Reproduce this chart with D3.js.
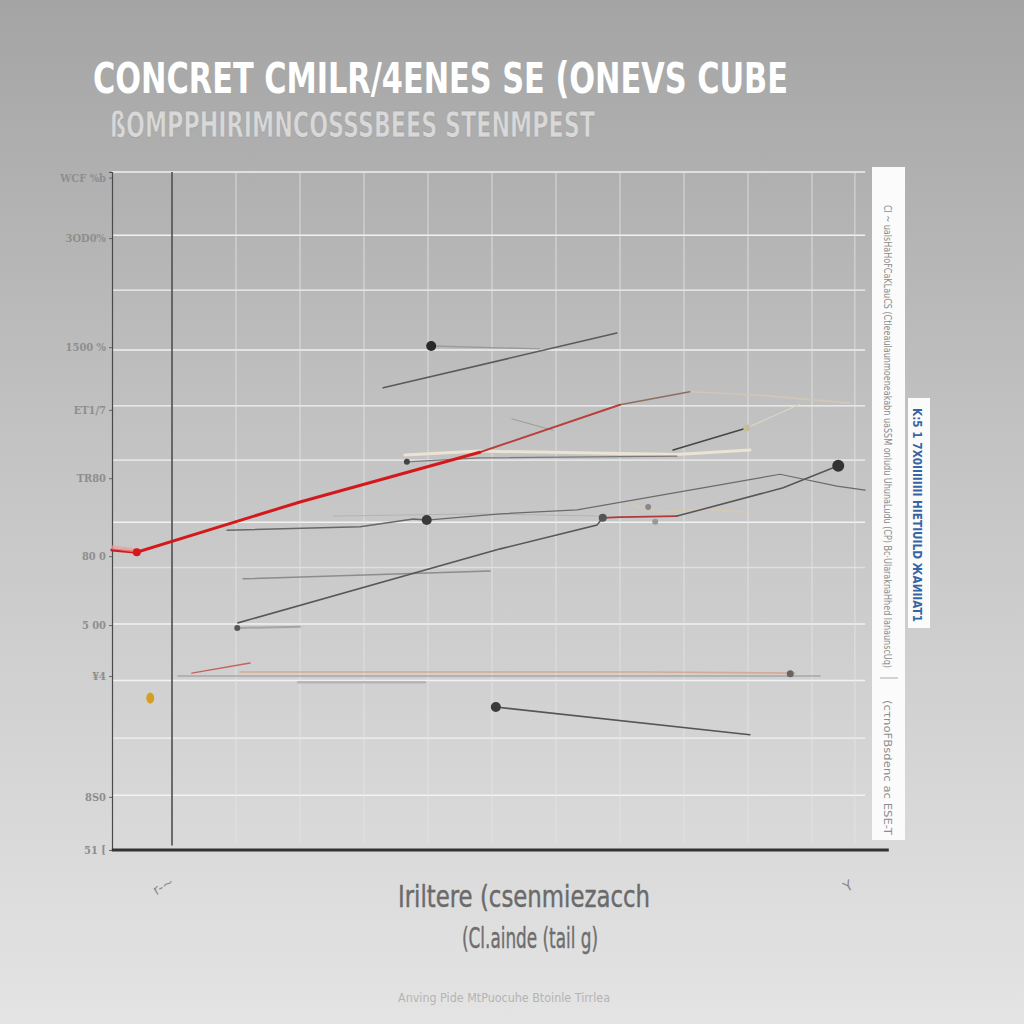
<!DOCTYPE html>
<html>
<head>
<meta charset="utf-8">
<script src="https://cdn.jsdelivr.net/npm/d3@7"></script>
<style>
  html, body { margin: 0; padding: 0; background: #c8c8c8; }
  svg { display: block; }
</style>
</head>
<body>
<div id="chart-holder"></div>
<script>
// Chart values (x in grid columns, y in grid rows)

const titleText = 'CONCRET CMILR/4ENES SE (ONEVS CUBE';
const subtitleText = 'ßOMPPHIRIMNCOSSSBEES STENMPEST';
const xTitleText = 'Iriltere (csenmiezacch';
const xSubTitleText = '(Cl.ainde (tail g)';
const footText = 'Anving Pide MtPuocuhe Btoinle Tirrlea';

const xGrid = [1, 2, 3, 4, 5, 6, 7, 8, 9, 10, 11, 11.67];
const yGrid = [0.97, 1.98, 3.0, 4.0, 5.0, 5.8, 6.9, 7.86, 8.85, 9.91, 10.88, 12];

const yTickValues = [0, 0.94, 3.08, 3.98, 5.2, 6.58, 7.79, 8.9, 10.83, 11.9];
const yTickLabels = ['51 [', '8S0', '¥4', '5 00', '80 0', 'TR80', 'ET1/7', '1500 %', '3OD0%', 'WCF %b'];

const xTickValues = [0.9, 11.6];
const xTickLabels = ['r-~', 'Y'];

// line series
const redMain   = [[0.06, 5.31], [0.45, 5.27], [3.0, 6.16], [5.81, 7.04]];
const redTail   = [[5.81, 7.04], [8.0, 7.88]];
const brownTail = [[8.0, 7.88], [9.09, 8.11]];
const beigeTail = [[9.09, 8.11], [10.19, 8.05], [11.59, 7.91]];
const topDark   = [[4.3, 8.18], [7.95, 9.15]];
const topGray   = [[5.05, 8.92], [6.75, 8.87]];
const midBeige  = [[4.64, 6.99], [5.81, 7.06], [8.89, 7.0], [10.03, 7.08]];
const midGray   = [[4.67, 6.87], [5.81, 6.94], [8.89, 6.97]];
const riseDark  = [[8.83, 7.08], [9.98, 7.47]];
const riseLight = [[9.98, 7.47], [10.81, 7.89]];
const stubGray  = [[6.31, 7.63], [6.95, 7.43]];
const curveLeft = [[1.86, 5.66], [3.94, 5.72], [4.77, 5.86], [4.98, 5.84]];
const curveRight = [[4.98, 5.84], [6.13, 5.95], [7.33, 6.02], [9.45, 6.44], [10.5, 6.65], [11.39, 6.44], [11.83, 6.37]];
const curveLight = [[3.52, 5.91], [5.81, 5.95], [7.69, 5.91]];
const longRiseA = [[2.03, 4.02], [6.13, 5.33], [7.64, 5.75], [7.73, 5.88]];
const longRiseB = [[7.73, 5.88], [8.0, 5.89], [8.89, 5.91]];
const longRiseC = [[8.89, 5.91], [10.55, 6.41], [11.41, 6.8]];
const beigeKnot = [[8.16, 6.11], [8.63, 5.98], [9.25, 6.04], [9.95, 5.98]];
const flatMid   = [[2.11, 4.8], [5.97, 4.94]];
const shortLow  = [[2.02, 3.93], [3.0, 3.95]];
const salmonLong = [[2.06, 3.15], [8.47, 3.15], [10.73, 3.13]];
const grayLong  = [[1.09, 3.08], [11.13, 3.08]];
const redShort  = [[1.31, 3.13], [2.22, 3.31]];
const grayShort = [[2.97, 2.97], [4.95, 2.97]];
const fallDark  = [[6.06, 2.53], [10.03, 2.04]];

// dots sitting on the lines
const dotPoints = [[0.45, 5.27], [5.05, 8.92], [4.98, 5.84], [7.73, 5.88], [11.41, 6.8], [6.06, 2.53], [2.02, 3.93], [10.66, 3.12], [8.44, 6.07], [8.55, 5.81], [4.67, 6.87], [9.98, 7.47]];
const blobPoint = [0.66, 2.69];

// styles, kept apart from the values
const lineStyles = [
  { data: grayLong,   stroke: '#8c8c8c', w: 1.2, op: 0.9 },
  { data: salmonLong, stroke: '#d6a58c', w: 1.6, op: 0.9 },
  { data: grayShort,  stroke: '#a8a8a8', w: 2.5, op: 0.7 },
  { data: redShort,   stroke: '#c05656', w: 1.4, op: 0.9 },
  { data: shortLow,   stroke: '#9a9a9a', w: 2, op: 0.8 },
  { data: flatMid,    stroke: '#858585', w: 1.5, op: 0.9 },
  { data: fallDark,   stroke: '#555555', w: 1.6, op: 1 },
  { data: midBeige,   stroke: '#ebe3d4', w: 3, op: 1 },
  { data: midGray,    stroke: '#7a7a7a', w: 1.2, op: 1 },
  { data: stubGray,   stroke: '#9c9c9c', w: 1, op: 1 },
  { data: curveLight, stroke: '#b4b4b4', w: 1, op: 1 },
  { data: curveLeft,  stroke: '#676767', w: 1.5, op: 1 },
  { data: curveRight, stroke: '#6a6a6a', w: 1.2, op: 1 },
  { data: beigeKnot,  stroke: '#d8c8b0', w: 1.5, op: 1 },
  { data: longRiseA,  stroke: '#575757', w: 1.6, op: 1 },
  { data: longRiseB,  stroke: '#b03a3a', w: 1.8, op: 1 },
  { data: longRiseC,  stroke: '#575757', w: 1.6, op: 1 },
  { data: riseDark,   stroke: '#464646', w: 1.6, op: 1 },
  { data: riseLight,  stroke: '#dcd4c4', w: 1.2, op: 1 },
  { data: beigeTail,  stroke: '#d2c6b6', w: 1.6, op: 1 },
  { data: brownTail,  stroke: '#8c6e62', w: 1.6, op: 1 },
  { data: topGray,    stroke: '#9a9a9a', w: 1.3, op: 1 },
  { data: topDark,    stroke: '#5a5a5a', w: 1.6, op: 1 },
  { data: redTail,    stroke: '#b8403c', w: 2, op: 1 },
  { data: redMain,    stroke: '#d3191b', w: 3, op: 1 }
];
const dotSizes = [4, 5, 5, 4, 6, 5, 3, 3.5, 3, 3, 3, 3.5];
const dotColors = ['#d3191b', '#2a2a2a', '#3a3a3a', '#555', '#333', '#3a3a3a', '#555', '#666', '#888', '#999', '#444', '#c8bca0'];

const W = 1024, H = 1024;

const svg = d3.select('#chart-holder')
  .append('svg')
  .attr('width', W)
  .attr('height', H);

// background gradient
const defs = svg.append('defs');
const grad = defs.append('linearGradient')
  .attr('id', 'bg').attr('x1', 0).attr('y1', 0).attr('x2', 0).attr('y2', 1);
grad.append('stop').attr('offset', '0%').attr('stop-color', '#a4a4a4');
grad.append('stop').attr('offset', '45%').attr('stop-color', '#c4c4c4');
grad.append('stop').attr('offset', '100%').attr('stop-color', '#e4e4e4');
svg.append('rect').attr('width', W).attr('height', H).attr('fill', 'url(#bg)');

var x = d3.scaleLinear().domain([0, 12]).range([108, 876]);
var y = d3.scaleLinear().domain([0, 12]).range([850, 172]);

// grid
let gridG = svg.append('g');
gridG.selectAll('.hgrid')
  .data(yGrid)
  .join('line')
  .classed('hgrid', true)
  .attr('x1', x(0.06)).attr('x2', x(11.83))
  .attr('y1', d => y(d)).attr('y2', d => y(d))
  .attr('stroke', '#f5f5f5')
  .attr('stroke-width', 1.4)
  .attr('opacity', d => d === 5.0 ? 0.5 : 0.95);

gridG.selectAll('.vgrid')
  .data(xGrid)
  .join('line')
  .classed('vgrid', true)
  .attr('x1', d => x(d)).attr('x2', d => x(d))
  .attr('y1', y(12)).attr('y2', y(0.1))
  .attr('stroke', '#e6e6e6')
  .attr('stroke-width', 1)
  .attr('opacity', 0.8);

// dark vertical reference line
gridG.append('line')
  .attr('x1', x(1)).attr('x2', x(1))
  .attr('y1', y(12)).attr('y2', y(0.08))
  .attr('stroke', '#3a3a3a')
  .attr('stroke-width', 1.4);

// y axis
let yAxis = d3.axisLeft(y)
  .tickValues(yTickValues)
  .tickFormat((d, i) => yTickLabels[i])
  .tickSize(3);

let yAxisG = svg.append('g')
  .attr('transform', `translate(${x(0) + 4},0)`)
  .call(yAxis);
yAxisG.select('.domain').attr('stroke', '#4a4a4a').attr('stroke-width', 1.2);
yAxisG.selectAll('.tick line').attr('stroke', '#666');
yAxisG.selectAll('.tick text')
  .attr('fill', '#8e8e8e')
  .attr('font-family', 'DejaVu Serif Condensed, DejaVu Serif, serif')
  .attr('font-weight', 'bold')
  .attr('font-size', 11);

// x axis: heavy baseline, scribble labels
let xAxisG = svg.append('g');
xAxisG.append('line')
  .attr('x1', x(0.06)).attr('x2', x(12.2))
  .attr('y1', y(0)).attr('y2', y(0))
  .attr('stroke', '#333')
  .attr('stroke-width', 3);
xAxisG.selectAll('.x-scribble')
  .data(xTickValues)
  .join('text')
  .classed('x-scribble', true)
  .attr('transform', d => `translate(${x(d)},${y(0) + 40}) rotate(-30)`)
  .attr('text-anchor', 'middle')
  .attr('font-family', 'DejaVu Sans')
  .attr('font-size', 14)
  .attr('fill', '#8a8a8a')
  .text((d, i) => xTickLabels[i]);

// lines
const lineGen = d3.line().x(d => x(d[0])).y(d => y(d[1]));
let linesG = svg.append('g').attr('fill', 'none');
linesG.selectAll('.series')
  .data(lineStyles)
  .join('path')
  .classed('series', true)
  .attr('d', d => lineGen(d.data))
  .attr('stroke', d => d.stroke)
  .attr('stroke-width', d => d.w)
  .attr('stroke-linecap', 'round')
  .attr('opacity', d => d.op);

// pink fringe at the start of the red line
linesG.append('path')
  .attr('d', lineGen([[0.06, 5.36], [0.45, 5.3]]))
  .attr('stroke', '#e8a0a0')
  .attr('stroke-width', 4)
  .attr('opacity', 0.7);

// dots
svg.append('g').selectAll('.dot')
  .data(dotPoints)
  .join('circle')
  .classed('dot', true)
  .attr('cx', d => x(d[0]))
  .attr('cy', d => y(d[1]))
  .attr('r', (d, i) => dotSizes[i])
  .attr('fill', (d, i) => dotColors[i]);

svg.append('ellipse')
  .attr('cx', x(blobPoint[0])).attr('cy', y(blobPoint[1]))
  .attr('rx', 4).attr('ry', 5.5)
  .attr('fill', '#d3a022');

// titles
svg.append('text')
  .attr('x', 93).attr('y', 93)
  .attr('font-family', 'DejaVu Sans Condensed, Liberation Sans, sans-serif')
  .attr('font-weight', 'bold')
  .attr('font-size', 42)
  .attr('textLength', 695)
  .attr('lengthAdjust', 'spacingAndGlyphs')
  .attr('fill', '#ffffff')
  .text(titleText);

svg.append('text')
  .attr('x', 110).attr('y', 137)
  .attr('font-family', 'DejaVu Sans Condensed, Liberation Sans, sans-serif')
  .attr('font-weight', 'bold')
  .attr('font-size', 36)
  .attr('textLength', 485)
  .attr('lengthAdjust', 'spacingAndGlyphs')
  .attr('fill', '#d8d8d8')
  .attr('stroke', '#9a9a9a')
  .attr('stroke-width', 0.6)
  .text(subtitleText);

svg.append('text')
  .attr('x', 398).attr('y', 907)
  .attr('font-family', 'DejaVu Sans Condensed, sans-serif')
  .attr('font-size', 30)
  .attr('textLength', 252)
  .attr('lengthAdjust', 'spacingAndGlyphs')
  .attr('fill', '#6a6a6a')
  .attr('stroke', '#6a6a6a')
  .attr('stroke-width', 0.4)
  .text(xTitleText);

svg.append('text')
  .attr('x', 462).attr('y', 948)
  .attr('font-family', 'DejaVu Sans Condensed, sans-serif')
  .attr('font-size', 28)
  .attr('textLength', 136)
  .attr('lengthAdjust', 'spacingAndGlyphs')
  .attr('fill', '#6e6e6e')
  .attr('stroke', '#6e6e6e')
  .attr('stroke-width', 0.4)
  .text(xSubTitleText);

svg.append('text')
  .attr('x', 398).attr('y', 1002)
  .attr('font-family', 'DejaVu Sans Condensed, sans-serif')
  .attr('font-size', 12)
  .attr('textLength', 212)
  .attr('lengthAdjust', 'spacingAndGlyphs')
  .attr('fill', '#b4b4b4')
  .text(footText);

// legend strips on the right
let legendG = svg.append('g');
legendG.append('rect')
  .attr('x', 872).attr('y', 167).attr('width', 33).attr('height', 673)
  .attr('fill', '#fbfbfb');
legendG.append('text')
  .attr('transform', 'translate(884,205) rotate(90)')
  .attr('font-family', 'DejaVu Sans Condensed, sans-serif')
  .attr('font-size', 10)
  .attr('textLength', 463)
  .attr('lengthAdjust', 'spacingAndGlyphs')
  .attr('fill', '#8c8c8c')
  .text('Cl ~ ualsHaHoFCaKLauCS (Ctleeaulaunmoeneakabn uaSSM onludu UhunaLudu (CP) Bc·UlaraknaHhed lanaunscUq)');
legendG.append('line')
  .attr('x1', 880).attr('x2', 898).attr('y1', 678).attr('y2', 678)
  .attr('stroke', '#aaa').attr('stroke-width', 1);
legendG.append('text')
  .attr('transform', 'translate(884,700) rotate(90)')
  .attr('font-family', 'DejaVu Sans Condensed, sans-serif')
  .attr('font-size', 10)
  .attr('textLength', 135)
  .attr('lengthAdjust', 'spacingAndGlyphs')
  .attr('fill', '#8c8c8c')
  .text('(cτnoFBsdenc  ac  ESE-T');

legendG.append('rect')
  .attr('x', 908).attr('y', 398).attr('width', 22).attr('height', 230)
  .attr('fill', '#fbfbfb');
legendG.append('text')
  .attr('transform', 'translate(913,408) rotate(90)')
  .attr('font-family', 'DejaVu Sans Condensed, sans-serif')
  .attr('font-weight', 'bold')
  .attr('font-size', 12)
  .attr('textLength', 214)
  .attr('lengthAdjust', 'spacingAndGlyphs')
  .attr('fill', '#3565a5')
  .text('K:5 1 7X0IIIIIIII HIETIUILD ЖАИIIAT1');
</script>
</body>
</html>
